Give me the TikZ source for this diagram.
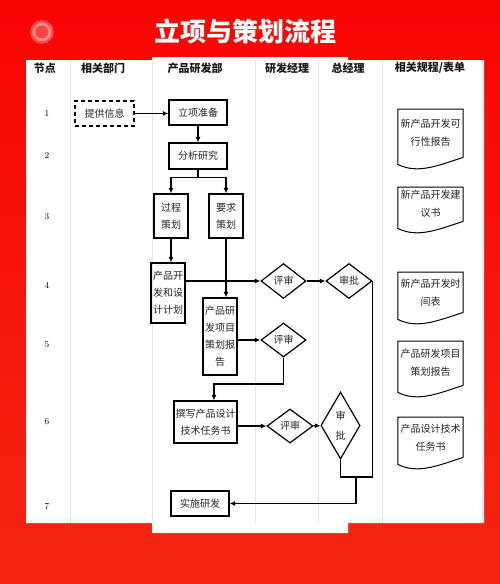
\documentclass[tikz,border=0pt]{standalone}
\usepackage{fontspec}
\newfontfamily\cjk{Noto Sans CJK SC}
\usetikzlibrary{shapes.geometric}
\usetikzlibrary{arrows.meta}
\usetikzlibrary{calc}

\begin{document}
\begin{tikzpicture}[x=1pt,y=-1pt,
  box/.style={draw, line width=1.2pt, align=center, inner sep=0pt, font=\cjk\fontsize{10}{17}\selectfont, text=black!85},
  dia/.style={draw, diamond, line width=1.2pt, inner sep=0pt, align=center, font=\cjk\fontsize{10}{20}\selectfont, text=black!85},
  docbox/.style={align=center, inner sep=0pt, minimum width=65pt, anchor=north, font=\cjk\fontsize{10}{18}\selectfont, text=black!85},
  head/.style={font=\cjk\bfseries\fontsize{11}{11}\selectfont, text=black!90},
  arr/.style={line width=1.2pt, -{Latex[length=5.5pt,width=5pt]}},
  line/.style={line width=1.2pt}]
 \useasboundingbox (0,0) rectangle (500,584);
 % background and sheet
 \shade[top color={rgb,255:red,250;green,4;blue,4}, bottom color={rgb,255:red,242;green,38;blue,18}] (0,0) rectangle (500,584);
 \fill[white, opacity=0.25] (42,32) circle (12pt);
 \draw[white, opacity=0.35, line width=3pt] (42,32) circle (8pt);
 \fill[white] (26,60) -- (152,60) -- (152,57) -- (348,57) -- (348,60) -- (484,60)
   -- (484,523) -- (348,523) -- (348,533) -- (152,533) -- (152,523) -- (26,523) -- cycle;
 \node[name=title, anchor=west, text=white, font=\cjk\bfseries\fontsize{26}{26}\selectfont] at (151,31) {立项与策划流程};

 % columns
 \foreach \x in {70,152,255,318,382,482}
   \draw[gray!20, line width=0.8pt] (\x,60) -- (\x,523);
 \foreach \x/\t [count=\i] in {45/节点, 103/相关部门, 195/产品研发部, 287/研发经理, 348/总经理, 430/{相关规程/表单}}
   \node[head, name=head\i] at (\x,68) {\t};
 \foreach \n/\y in {1/113,2/155,3/217,4/285,5/345,6/422,7/507}
   \node[name=num\n, font=\fontsize{9}{9}\selectfont] at (47,\y) {\n};

 % flow
 \node[box, name=info, dash pattern=on 4pt off 3pt, minimum width=59pt, minimum height=25pt] at (104.5,113.5) {提供信息};
 \node[box, name=prep, minimum width=58pt, minimum height=25pt] at (198,112.5) {立项准备};
 \node[box, name=study, minimum width=58pt, minimum height=26pt] at (198,156) {分析研究};
 \node[box, name=proc, minimum width=34pt, minimum height=44pt] at (171,216) {过程\\策划};
 \node[box, name=req, minimum width=34pt, minimum height=44pt] at (226,216) {要求\\策划};
 \node[box, name=plan, minimum width=34pt, minimum height=60pt] at (168,293) {产品开\\发和设\\计计划};
 \node[box, name=report, minimum width=34pt, minimum height=77pt] at (220,336.5) {产品研\\发项目\\策划报\\告};
 \node[box, name=task, minimum width=63pt, minimum height=42pt] at (205.5,422) {撰写产品设计\\技术任务书};
 \node[box, name=exec, minimum width=58pt, minimum height=25pt] at (200,503.5) {实施研发};
 \node[dia, name=rev1, minimum width=45pt, minimum height=35pt] at (283.5,281) {评审};
 \node[dia, name=appr1, minimum width=46pt, minimum height=35pt] at (349,281) {审批};
 \node[dia, name=rev2, minimum width=45pt, minimum height=34pt] at (283.5,340) {评审};
 \node[dia, name=rev3, minimum width=46pt, minimum height=34pt] at (290,426) {评审};
 \node[dia, name=appr2, minimum width=29pt, minimum height=67pt] at (340.5,425.5) {审\\批};

 % forms
 \node[docbox, name=doc1, minimum height=48pt] at (430.5,109) {新产品开发可\\行性报告};
 \node[docbox, name=doc2, minimum height=34pt] at (430.5,187) {新产品开发建\\议书};
 \node[docbox, name=doc3, minimum height=40pt] at (430.5,272) {新产品开发时\\间表};
 \node[docbox, name=doc4, minimum height=44pt] at (430.5,341) {产品研发项目\\策划报告};
 \node[docbox, name=doc5, minimum height=40pt] at (430.5,417) {产品设计技术\\任务书};
 \foreach \i in {1,...,5}
   \draw[line width=1pt] (doc\i.south east) -- (doc\i.north east) -- (doc\i.north west)
     -- ([yshift=-7pt]doc\i.south west) .. controls +(20,10) and +(-25,8) .. (doc\i.south east);

 \draw[arr] (info.east) -- (info.east -| prep.west);
 \draw[arr] (prep) -- (study);
 \draw[arr] (study.south) -- ++(0,8) -| (proc.north);
 \draw[arr] (study.south) -- ++(0,8) -| (req.north);
 \draw[arr] (proc.south) -- (proc.south |- plan.north);
 \draw[arr] (req.south) -- (req.south |- report.north);
 \draw[arr] (rev1.west -| plan.east) -- (rev1.west);
 \draw[arr] (rev1) -- (appr1);
 \draw[arr] (rev2.west -| report.east) -- (rev2.west);
 \coordinate (bend) at (214,384);
 \draw[arr] (rev2.south) |- (bend) -- (bend |- task.north);
 \draw[arr] (rev3.west -| task.east) -- (rev3.west);
 \draw[arr] (rev3) -- (appr2);
 \coordinate (merge) at (356,477);
 \draw[line] (appr1.east) |- (merge);
 \draw[line] (appr2.south) |- (merge);
 \draw[arr] (merge) |- (exec.east);
\end{tikzpicture}
\end{document}
